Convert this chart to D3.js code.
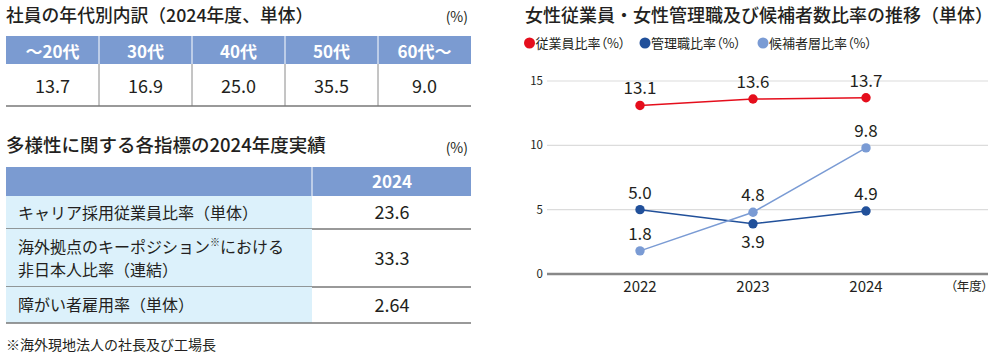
<!DOCTYPE html>
<html><head><meta charset="utf-8">
<script src="https://cdn.jsdelivr.net/npm/d3@7"></script>
<style>
body{margin:0;background:#fff;}
svg{display:block;font-family:"Noto Sans CJK JP","Noto Sans",sans-serif;}
</style></head>
<body>
<svg id="c" width="1000" height="355"></svg>
<script>
// ---- data ----
const ageCategories = ["～20代","30代","40代","50代","60代～"];
const ageValues = ["13.7","16.9","25.0","35.5","9.0"];
const diversityHeader = "2024";
const diversityLabels = [["キャリア採用従業員比率（単体）"],["海外拠点のキーポジション※における","非日本人比率（連結）"],["障がい者雇用率（単体）"]];
const diversityValues = ["23.6","33.3","2.64"];
const years = ["2022","2023","2024"];
const employeeRatio = [13.1,13.6,13.7];
const managerRatio = [5.0,3.9,4.9];
const candidateRatio = [1.8,4.8,9.8];
const yTicks = [0,5,10,15];
const seriesNames = ["従業員比率（%）","管理職比率（%）","候補者層比率（%）"];

const svg = d3.select("#c");
const dark = "#231f20";
const headBlue = "#7b9bd1";
const lightCell = "#dcf1fb";

// ---- Table 1 ----
svg.append("text").attr("x",6).attr("y",22).attr("font-size",17.8).attr("font-weight",500).attr("fill",dark)
  .text("社員の年代別内訳（2024年度、単体）");
svg.append("text").attr("x",468).attr("y",22).attr("text-anchor","end").attr("font-size",14).attr("fill",dark).text("(%)");

const t1x = d3.scaleBand().domain(ageCategories).range([6,471]);
const t1 = svg.append("g");
t1.append("rect").attr("x",6).attr("y",36).attr("width",465).attr("height",28).attr("fill",headBlue);
ageCategories.forEach((c,i)=>{
  const x = t1x(c);
  if(i>0){
    t1.append("line").attr("x1",x).attr("x2",x).attr("y1",36).attr("y2",64).attr("stroke","#fff").attr("stroke-width",1);
    t1.append("line").attr("x1",x).attr("x2",x).attr("y1",64).attr("y2",106).attr("stroke","#8a8a8a").attr("stroke-width",1);
  }
  t1.append("text").attr("x",x+t1x.bandwidth()/2).attr("y",58).attr("text-anchor","middle")
    .attr("font-size",17).attr("font-weight",700).attr("fill","#fff").text(c);
  t1.append("text").attr("x",x+t1x.bandwidth()/2).attr("y",92.5).attr("text-anchor","middle")
    .attr("font-size",18).attr("fill",dark).text(ageValues[i]);
});
t1.append("line").attr("x1",6).attr("x2",471).attr("y1",106).attr("y2",106).attr("stroke","#777").attr("stroke-width",1.5);

// ---- Table 2 ----
svg.append("text").attr("x",6).attr("y",152).attr("font-size",18.5).attr("font-weight",500).attr("fill",dark)
  .text("多様性に関する各指標の2024年度実績");
svg.append("text").attr("x",468).attr("y",153).attr("text-anchor","end").attr("font-size",14).attr("fill",dark).text("(%)");
const t2 = svg.append("g");
t2.append("rect").attr("x",6).attr("y",167).attr("width",465).attr("height",29).attr("fill",headBlue);
t2.append("line").attr("x1",312).attr("x2",312).attr("y1",167).attr("y2",196).attr("stroke","#fff");
t2.append("text").attr("x",392).attr("y",188).attr("text-anchor","middle").attr("font-size",17).attr("font-weight",700).attr("fill","#fff").text(diversityHeader);
const rowH = [33,58,36];
let ry = 196;
diversityLabels.forEach((lines,i)=>{
  const h = rowH[i];
  t2.append("rect").attr("x",6).attr("y",ry).attr("width",306).attr("height",h).attr("fill",lightCell);
  const cy = ry + h/2;
  const lh = 23;
  lines.forEach((ln,j)=>{
    const ty = cy + (j-(lines.length-1)/2)*lh + 6;
    const t = t2.append("text").attr("x",18).attr("y",ty).attr("font-size",16).attr("fill",dark);
    const parts = ln.split("※");
    if(parts.length>1){
      t.append("tspan").text(parts[0]);
      t.append("tspan").attr("font-size",10).attr("dy",-7).text("※");
      t.append("tspan").attr("dy",7).text(parts[1]);
    } else t.text(ln);
  });
  t2.append("text").attr("x",392).attr("y",cy+6.5).attr("text-anchor","middle").attr("font-size",18).attr("fill",dark).text(diversityValues[i]);
  ry += h;
  t2.append("line").attr("x1",6).attr("x2",471).attr("y1",ry).attr("y2",ry).attr("stroke","#777").attr("stroke-width",1.5);
});
svg.append("text").attr("x",6).attr("y",350).attr("font-size",14).attr("fill",dark).text("※海外現地法人の社長及び工場長");

// ---- Line chart ----
svg.append("text").attr("x",525).attr("y",22).attr("font-size",18).attr("font-weight",500).attr("fill",dark)
  .text("女性従業員・女性管理職及び候補者数比率の推移（単体）");
const colors = ["#e50e1c","#21509a","#7a9bd4"];
const legX = [529.5,645,763];
seriesNames.forEach((n,i)=>{
  svg.append("circle").attr("cx",legX[i]).attr("cy",43).attr("r",5.5).attr("fill",colors[i]);
  svg.append("text").attr("x",legX[i]+6).attr("y",48).attr("font-size",13).attr("fill",dark)
    .attr("style","font-feature-settings:'palt'").text(n);
});
const y = d3.scaleLinear().domain([0,15]).range([274,81]);
const x = d3.scalePoint().domain(years).range([640,866]);
const gx0 = 547, gx1 = 988;
const grid = svg.append("g");
yTicks.forEach(t=>{
  grid.append("line").attr("x1",gx0).attr("x2",gx1).attr("y1",y(t)).attr("y2",y(t))
    .attr("stroke", t===0?"#888":"#dcdcdc").attr("stroke-width", t===0?2.5:1.2);
  grid.append("text").attr("x",543).attr("y",y(t)+4).attr("text-anchor","end").attr("font-size",11.5).attr("fill",dark).text(t);
});
years.forEach(yr=>{
  svg.append("text").attr("x",x(yr)).attr("y",292).attr("text-anchor","middle").attr("font-size",15).attr("fill",dark).text(yr);
});
svg.append("text").attr("x",988).attr("y",291).attr("text-anchor","end").attr("font-size",12.5).attr("fill",dark)
  .attr("style","font-feature-settings:'palt'").text("（年度）");

const series = [
  {vals:employeeRatio, color:colors[0], below:[]},
  {vals:managerRatio, color:colors[1], below:[1]},
  {vals:candidateRatio, color:colors[2], below:[]}
];
const line = d3.line().x((d,i)=>x(years[i])).y(d=>y(d));
series.forEach(s=>{
  svg.append("path").datum(s.vals).attr("d",line).attr("fill","none").attr("stroke",s.color).attr("stroke-width",1.5);
});
series.forEach(s=>{
  s.vals.forEach((v,i)=>{
    svg.append("circle").attr("cx",x(years[i])).attr("cy",y(v)).attr("r",4.7).attr("fill",s.color);
    const b = s.below.includes(i);
    svg.append("text").attr("x",x(years[i])).attr("y", b ? y(v)+24 : y(v)-11)
      .attr("text-anchor","middle").attr("font-size",17).attr("fill",dark).text(v.toFixed(1));
  });
});
</script>
</body></html>
